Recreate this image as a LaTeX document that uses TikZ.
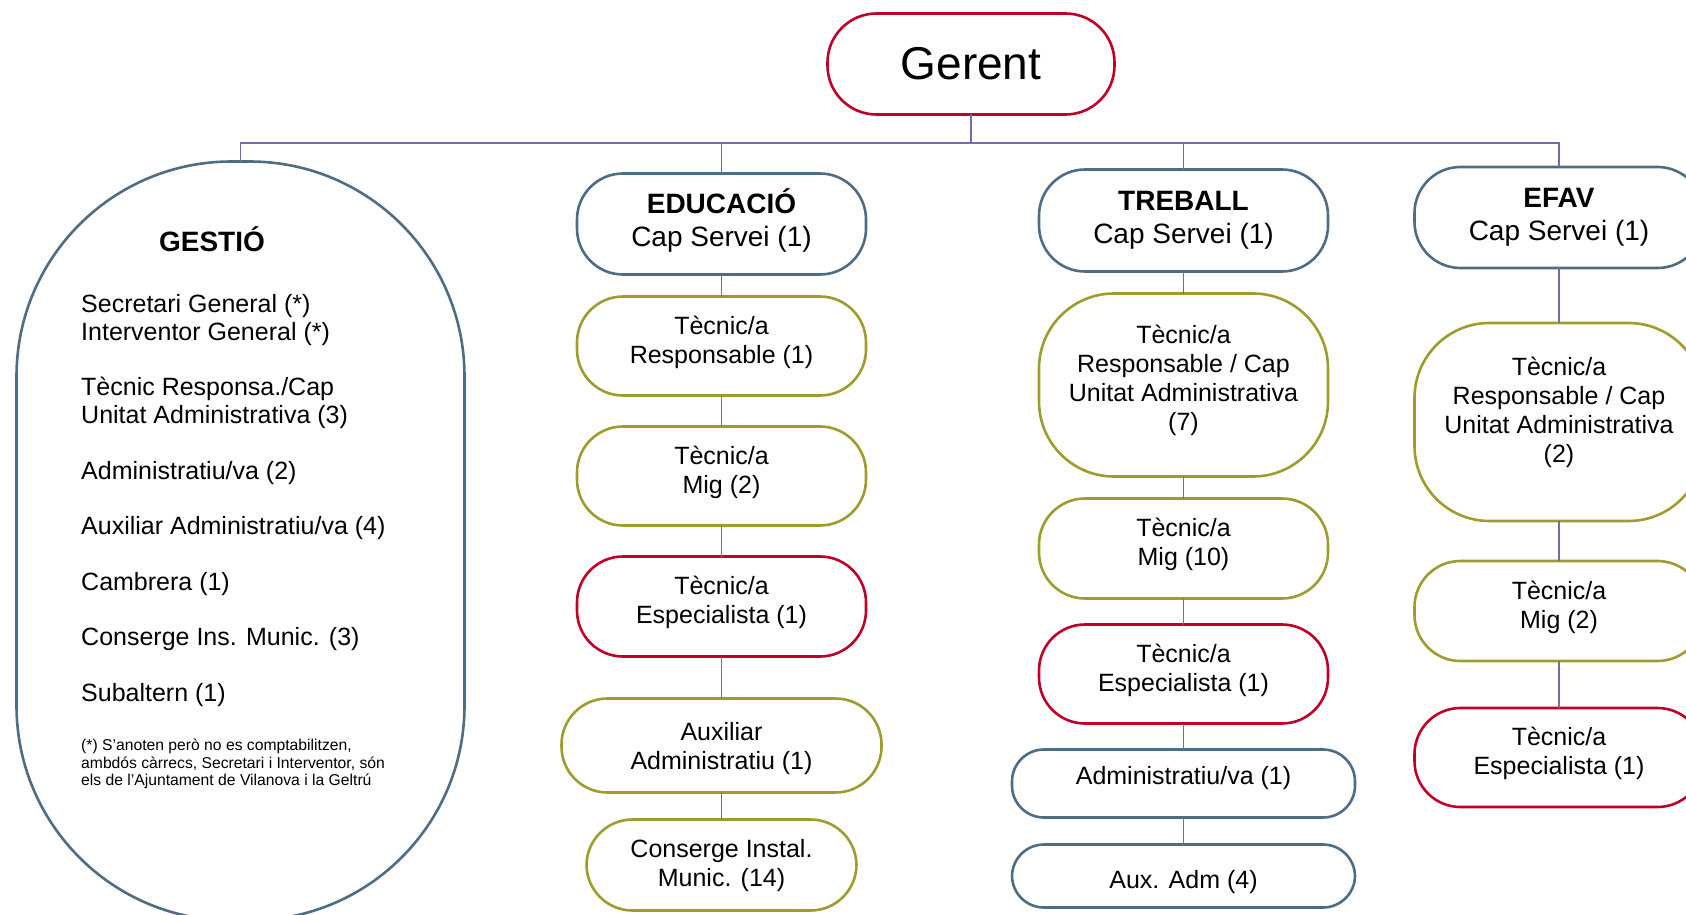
\documentclass[tikz,border=0pt]{standalone}
\usepackage{fontspec}
\setmainfont{Liberation Sans}
\usetikzlibrary{positioning}

\definecolor{gerentred}{RGB}{192,0,38}
\definecolor{capblue}{RGB}{78,108,132}
\definecolor{tecolive}{RGB}{158,156,44}
\definecolor{linkblue}{RGB}{112,110,165}

\begin{document}
\begin{tikzpicture}[
    x=1pt, y=-1pt,
    box/.style={draw, line width=2.6pt, rounded corners=46pt, minimum width=289pt, minimum height=99pt, inner sep=2pt, outer sep=0pt, align=center, font=\fontsize{25}{29}\selectfont},
    headbox/.style={box, draw=capblue, minimum height=101pt, font=\fontsize{28}{33}\selectfont},
    olivebox/.style={box, draw=tecolive, text depth=13pt},
    redbox/.style={box, draw=gerentred, text depth=13pt},
    bluebox/.style={box, draw=capblue, rounded corners=32pt, minimum width=343pt},
    link/.style={draw=linkblue, line width=1.3pt}
]
\useasboundingbox (0,0) rectangle (1686,915);

\node (gerent) [box, draw=gerentred, minimum width=287pt, minimum height=101pt, rounded corners=49pt, font=\fontsize{46}{50}\selectfont] at (971,64) {Gerent};
\coordinate (bus) at (971,143);

% gestio
\node (gestio) [box, draw=capblue, minimum width=448pt, minimum height=759pt, rounded corners=215pt] at (240.5,541) {};
\node (gestiotitle) [anchor=base, font=\fontsize{28}{33}\selectfont\bfseries] at (212,251) {GESTIÓ};
\node (gestiolist) [anchor=north west, align=left, inner sep=0pt, font=\fontsize{25}{27.8}\selectfont] at (81,294) {Secretari General (*)\\Interventor General (*)\\[27.8pt]Tècnic Responsa./Cap\\Unitat Administrativa (3)\\[27.8pt]Administratiu/va (2)\\[27.8pt]Auxiliar Administratiu/va (4)\\[27.8pt]Cambrera (1)\\[27.8pt]Conserge Ins. Munic. (3)\\[27.8pt]Subaltern (1)};
\node (gestionote) [anchor=north west, align=left, inner sep=0pt, font=\fontsize{15.7}{17.5}\selectfont] at (81,739) {(*) S’anoten però no es comptabilitzen,\\ambdós càrrecs, Secretari i Interventor, són\\els de l’Ajuntament de Vilanova i la Geltrú};

% educacio
\node (educ) [headbox, text depth=13pt] at (721.5,224) {\textbf{EDUCACIÓ}\\Cap Servei (1)};
\node (eduresp) [olivebox, below=22pt of educ] {Tècnic/a\\Responsable (1)};
\node (edumig) [olivebox, below=31pt of eduresp] {Tècnic/a\\Mig (2)};
\node (eduesp) [redbox, minimum height=100pt, below=31pt of edumig] {Tècnic/a\\Especialista (1)};
\node (eduaux) [olivebox, text depth=0pt, minimum width=320pt, minimum height=94pt, below=42pt of eduesp] {Auxiliar\\Administratiu (1)};
\node (educons) [olivebox, text depth=5pt, minimum width=270pt, minimum height=91pt, below=27pt of eduaux] {Conserge Instal.\\Munic. (14)};

% treball
\node (treb) [headbox, minimum height=102pt] at (1183.5,220.5) {\textbf{TREBALL}\\Cap Servei (1)};
\node (trebresp) [olivebox, text depth=15pt, minimum height=183pt, rounded corners=75pt, below=22pt of treb] {Tècnic/a\\Responsable / Cap\\Unitat Administrativa\\(7)};
\node (trebmig) [olivebox, minimum height=100pt, below=22pt of trebresp] {Tècnic/a\\Mig (10)};
\node (trebesp) [redbox, below=26pt of trebmig] {Tècnic/a\\Especialista (1)};
\node (trebadm) [bluebox, text depth=17pt, minimum height=68pt, below=26pt of trebesp] {Administratiu/va (1)};
\node (trebaux) [bluebox, text depth=0pt, text height=24pt, minimum height=63pt, below=27pt of trebadm] {Aux. Adm (4)};

% efav
\node (efav) [headbox] at (1559,217.5) {\textbf{EFAV}\\Cap Servei (1)};
\node (efavresp) [olivebox, text depth=25pt, minimum height=198pt, rounded corners=75pt, below=55pt of efav] {Tècnic/a\\Responsable / Cap\\Unitat Administrativa\\(2)};
\node (efavmig) [olivebox, minimum height=100pt, below=40pt of efavresp] {Tècnic/a\\Mig (2)};
\node (efavesp) [redbox, below=47pt of efavmig] {Tècnic/a\\Especialista (1)};

\draw [link] (gerent) -- (bus);
\draw [link] (gestio) |- (bus);
\draw [link] (educ) |- (bus);
\draw [link] (treb) |- (bus);
\draw [link] (efav) |- (bus);

\draw [link] (educ) -- (eduresp);
\draw [link] (eduresp) -- (edumig);
\draw [link] (edumig) -- (eduesp);
\draw [link] (eduesp) -- (eduaux);
\draw [link] (eduaux) -- (educons);

\draw [link] (treb) -- (trebresp);
\draw [link] (trebresp) -- (trebmig);
\draw [link] (trebmig) -- (trebesp);
\draw [link] (trebesp) -- (trebadm);
\draw [link] (trebadm) -- (trebaux);

\draw [link] (efav) -- (efavresp);
\draw [link] (efavresp) -- (efavmig);
\draw [link] (efavmig) -- (efavesp);

\end{tikzpicture}
\end{document}
